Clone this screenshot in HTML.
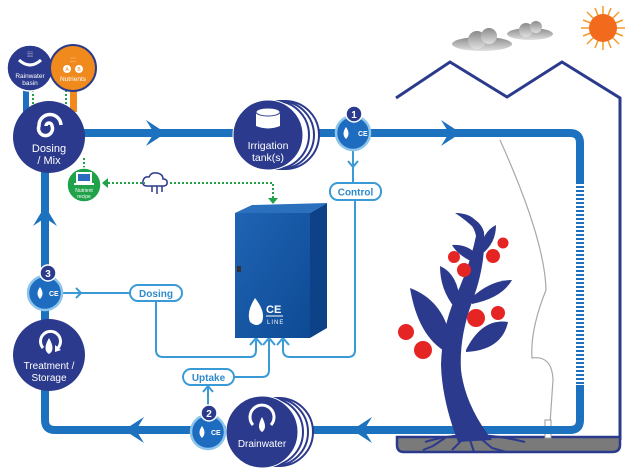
<!DOCTYPE html>
<html><head><meta charset="utf-8"><style>
html,body{margin:0;padding:0;background:#fff;}
svg{display:block;font-family:"Liberation Sans",sans-serif;}
</style></head><body>
<svg width="627" height="470" viewBox="0 0 627 470" xmlns="http://www.w3.org/2000/svg">
<defs>
<linearGradient id="cab" x1="0" y1="0" x2="1" y2="1"><stop offset="0" stop-color="#1f64b4"/><stop offset="1" stop-color="#0e4a94"/></linearGradient>
<linearGradient id="cl" x1="0" y1="0" x2="0" y2="1"><stop offset="0" stop-color="#8a8a8a"/><stop offset="1" stop-color="#e0e0e0"/></linearGradient>
</defs>
<!-- sun -->
<g transform="translate(603,28)">
<g stroke="#f49a2a" stroke-width="1.5">
<line x1="0" y1="-22" x2="0" y2="22"/><line x1="-22" y1="0" x2="22" y2="0"/>
<line x1="-16" y1="-16" x2="16" y2="16"/><line x1="-16" y1="16" x2="16" y2="-16"/>
<line x1="-8" y1="-20" x2="8" y2="20"/><line x1="8" y1="-20" x2="-8" y2="20"/>
<line x1="-20" y1="-8" x2="20" y2="8"/><line x1="-20" y1="8" x2="20" y2="-8"/>
</g>
<circle r="14" fill="#f26a1b"/></g>
<!-- clouds -->
<g fill="url(#cl)">
<ellipse cx="482" cy="44" rx="30" ry="7"/><circle cx="477" cy="40" r="9"/><circle cx="489" cy="36" r="8"/>
<ellipse cx="530" cy="34" rx="23" ry="6"/><circle cx="526" cy="30" r="7"/><circle cx="536" cy="27" r="6"/>
</g>
<!-- greenhouse -->
<path d="M396,98 L450,62 L507,97 L562,62 L620,98 L620,440" fill="none" stroke="#2b3a8c" stroke-width="3"/>
<path d="M397,437 L620,437 L620,445 Q620,452 612,452 L404,452 Q397,452 397,445 Z" fill="#7a7a7a" stroke="#2b3a8c" stroke-width="2.5"/>
<!-- sensor wire -->
<path d="M500,140 Q545,240 546,290 Q530,330 532,358 Q552,355 553,380 L549,438" fill="none" stroke="#a8a8a8" stroke-width="1.2"/>
<rect x="545" y="420" width="6" height="18" fill="#fff" stroke="#999" stroke-width="1"/>
<!-- main pipes -->
<g fill="none" stroke="#1d72c0" stroke-width="8">
<path d="M45,133 L570,133 Q580,133 580,143 L580,182"/>
<path d="M580,385 L580,420 Q580,430 570,430 L55,430 Q45,430 45,420 L45,133"/>
</g>
<line x1="580" y1="182" x2="580" y2="385" stroke="#1d72c0" stroke-width="8" stroke-dasharray="2,2"/>
<!-- arrows -->
<g fill="#1d72c0">
<path d="M146,120 L166,133 L146,146 L154,133 Z"/>
<path d="M441,120 L461,133 L441,146 L449,133 Z"/>
<path d="M144,417 L124,430 L144,443 L136,430 Z"/>
<path d="M372,417 L352,430 L372,443 L364,430 Z"/>
<path d="M33,226 L45,206 L57,226 L45,218 Z"/>
</g>
<!-- thin control lines -->
<g fill="none" stroke="#3a9ad6" stroke-width="2">
<path d="M353,150 L353,183"/>
<path d="M355,200 L355,350 Q355,357 348,357 L290,357 Q283,357 283,350 L283,340"/>
<path d="M63,293 L130,293"/>
<path d="M156,301 L156,350 Q156,357 163,357 L250,357 Q256,357 256,350 L256,340"/>
<path d="M234,377 L262,377 Q269,377 269,370 L269,340"/>
<path d="M208,385 L208,415"/>
</g>
<g fill="none" stroke="#3a9ad6" stroke-width="2" stroke-linejoin="round">
<path d="M250,345 L256,338 L262,345"/><path d="M263,345 L269,338 L275,345"/><path d="M277,345 L283,338 L289,345"/>
<path d="M348,161 L353,167 L358,161"/><path d="M76,288 L81,293 L76,298"/><path d="M203,392 L208,386 L213,392"/>
</g>
<!-- labels -->
<g font-size="10" font-weight="bold" fill="#2e8acb" text-anchor="middle">
<rect x="330" y="183" width="51" height="17" rx="8" fill="#fff" stroke="#3a9ad6" stroke-width="2"/><text x="355.5" y="195.5">Control</text>
<rect x="130" y="285" width="52" height="16" rx="8" fill="#fff" stroke="#3a9ad6" stroke-width="2"/><text x="156" y="297">Dosing</text>
<rect x="183" y="369" width="51" height="16" rx="8" fill="#fff" stroke="#3a9ad6" stroke-width="2"/><text x="208.5" y="381">Uptake</text>
</g>
<!-- green dotted -->
<g fill="none" stroke="#1fa24a" stroke-width="2" stroke-dasharray="2,2">
<path d="M108,183 L145,183"/><path d="M170,183 L273,183 L273,198"/>
<path d="M84,158 L84,168"/><path d="M33,90 L33,108"/><path d="M66,90 L66,108"/>
</g>
<path d="M108,178 L102,183 L108,188 Z" fill="#1fa24a"/>
<path d="M268,198 L273,204 L278,198 Z" fill="#1fa24a"/>
<!-- cloud icon -->
<g fill="none" stroke="#2b3a8c" stroke-width="1.5">
<path d="M147,186 Q142,186 143,181 Q144,176 149,177 Q151,172 157,173 Q163,174 163,179 Q168,179 167,184 Q166,186 163,186 Z"/>
<path d="M152,186 L152,192 M157,186 L157,194 M162,186 L162,192"/>
</g>
<!-- pipe stubs for source circles -->
<rect x="23" y="88" width="6" height="24" fill="#1d72c0"/>
<rect x="70" y="88" width="7" height="24" fill="#f08a1c"/>
<!-- rainwater -->
<circle cx="30" cy="68" r="23" fill="#2b3a8c" stroke="#fff" stroke-width="1.5"/>
<path d="M19,60 Q30,70 41,60" fill="none" stroke="#fff" stroke-width="3"/>
<text x="30" y="57" font-size="7" fill="#fff" text-anchor="middle">⁞⁞⁞</text>
<text x="30" y="78" font-size="6.5" fill="#fff" text-anchor="middle">Rainwater</text>
<text x="30" y="85" font-size="6.5" fill="#fff" text-anchor="middle">basin</text>
<!-- nutrients -->
<circle cx="73" cy="68" r="23" fill="#f08a1c" stroke="#2b3a8c" stroke-width="2"/>
<circle cx="67" cy="69" r="4" fill="#fff"/><circle cx="79" cy="69" r="4" fill="#fff"/>
<text x="67" y="71" font-size="5" fill="#f08a1c" text-anchor="middle">A</text><text x="79" y="71" font-size="5" fill="#f08a1c" text-anchor="middle">B</text>
<text x="73" y="62" font-size="6" fill="#fff" text-anchor="middle">⁚⁚⁚</text>
<text x="73" y="81" font-size="6.5" fill="#fff" text-anchor="middle">Nutrients</text>
<!-- dosing mix -->
<circle cx="49" cy="137" r="36" fill="#2b3a8c"/>
<path d="M49,126 m-3,0 a3,3 0 1,1 6,0 a7,7 0 1,1 -13,0 a11,11 0 1,1 22,-1" fill="none" stroke="#fff" stroke-width="3.5"/>
<text x="49" y="152" font-size="11" fill="#fff" text-anchor="middle">Dosing</text>
<text x="49" y="164" font-size="11" fill="#fff" text-anchor="middle">/ Mix</text>
<!-- nutrient recipe -->
<circle cx="84" cy="185" r="17" fill="#1fa24a" stroke="#fff" stroke-width="1.5"/>
<rect x="76" y="172" width="16" height="11" fill="#fff"/><rect x="78" y="174" width="12" height="7" fill="#2b6cc0"/>
<rect x="74" y="183" width="20" height="2" fill="#fff"/>
<text x="84" y="192" font-size="5" fill="#fff" text-anchor="middle">Nutrient</text>
<text x="84" y="198" font-size="5" fill="#fff" text-anchor="middle">recipe</text>
<!-- irrigation tank -->
<g fill="#fff" stroke="#2b3a8c" stroke-width="2">
<circle cx="285" cy="135" r="34"/><circle cx="280" cy="135" r="34"/><circle cx="275" cy="135" r="34"/>
</g>
<circle cx="268" cy="135" r="35" fill="#2b3a8c" stroke="#fff" stroke-width="1"/>
<path d="M256,112 L256,126 Q268,131 280,126 L280,112" fill="#fff"/>
<ellipse cx="268" cy="112" rx="12" ry="4" fill="#fff" stroke="#2b3a8c" stroke-width="1"/>
<text x="268" y="149" font-size="10.5" fill="#fff" text-anchor="middle">Irrigation</text>
<text x="268" y="161" font-size="10.5" fill="#fff" text-anchor="middle">tank(s)</text>
<!-- drainwater -->
<g fill="#fff" stroke="#2b3a8c" stroke-width="2">
<circle cx="279" cy="432" r="34"/><circle cx="274" cy="432" r="34"/><circle cx="269" cy="432" r="34"/>
</g>
<circle cx="262" cy="432" r="36" fill="#2b3a8c" stroke="#fff" stroke-width="1"/>
<path d="M253,425 A12,12 0 1,1 271,425" fill="none" stroke="#fff" stroke-width="3"/>
<path d="M262,417 Q268,428 262,432 Q256,428 262,417Z" fill="#fff"/>
<text x="262" y="447" font-size="10" fill="#fff" text-anchor="middle">Drainwater</text>
<!-- treatment -->
<circle cx="49" cy="355" r="36" fill="#2b3a8c"/>
<path d="M43,348 A10,10 0 1,1 58,348" fill="none" stroke="#fff" stroke-width="3"/>
<path d="M55,345 L61,350 L55,352Z" fill="#fff"/>
<path d="M49,338 Q56,350 49,354 Q42,350 49,338Z" fill="#fff"/>
<text x="49" y="369" font-size="10" fill="#fff" text-anchor="middle">Treatment /</text>
<text x="49" y="381" font-size="10" fill="#fff" text-anchor="middle">Storage</text>
<!-- sensors -->
<g>
<circle cx="353" cy="133" r="17" fill="#1e6cc0" stroke="#8cc4ec" stroke-width="2.5"/>
<circle cx="354" cy="114" r="8" fill="#2b3a8c" stroke="#fff" stroke-width="1.5"/>
<text x="354" y="118" font-size="10" font-weight="bold" fill="#fff" text-anchor="middle">1</text>
<path d="M346,127 Q351,134 346,139 Q341,134 346,127Z" fill="#fff"/>
<text x="358" y="136" font-size="7" font-weight="bold" fill="#fff">CE</text>
</g>
<g>
<circle cx="45" cy="293" r="17" fill="#1e6cc0" stroke="#8cc4ec" stroke-width="2.5"/>
<circle cx="48" cy="273" r="8" fill="#2b3a8c" stroke="#fff" stroke-width="1.5"/>
<text x="48" y="277" font-size="10" font-weight="bold" fill="#fff" text-anchor="middle">3</text>
<path d="M40,287 Q45,294 40,299 Q35,294 40,287Z" fill="#fff"/>
<text x="49" y="296" font-size="7" font-weight="bold" fill="#fff">CE</text>
</g>
<g>
<circle cx="208" cy="432" r="17" fill="#1e6cc0" stroke="#8cc4ec" stroke-width="2.5"/>
<circle cx="209" cy="413" r="8" fill="#2b3a8c" stroke="#fff" stroke-width="1.5"/>
<text x="209" y="417" font-size="10" font-weight="bold" fill="#fff" text-anchor="middle">2</text>
<path d="M202,426 Q207,433 202,438 Q197,433 202,426Z" fill="#fff"/>
<text x="211" y="435" font-size="7" font-weight="bold" fill="#fff">CE</text>
</g>
<!-- cabinet -->
<path d="M310,213 L327,203 L327,328 L310,338 Z" fill="#0d4288"/>
<path d="M235,213 L252,205 L327,203 L310,213 Z" fill="#2a70bd"/>
<rect x="235" y="213" width="75" height="125" fill="url(#cab)"/>
<rect x="237" y="266" width="4" height="6" fill="#333"/>
<path d="M255,298 Q266,312 262,322 Q257,328 250,322 Q246,312 255,298Z" fill="#fff"/>
<text x="266" y="313" font-size="11" font-weight="bold" fill="#fff">CE</text>
<line x1="266" y1="316" x2="283" y2="316" stroke="#fff" stroke-width="1"/>
<text x="267" y="324" font-size="6" fill="#fff" letter-spacing="1">LINE</text>
<!-- tree -->
<g fill="#2b3a8c">
<path d="M458,442 Q442,400 441,365 Q442,328 455,298 Q470,265 476,236 Q474,224 460,214 Q480,218 484,232 Q486,265 472,302 Q459,338 461,370 Q465,405 492,440 Z"/>
<path d="M425,442 Q470,428 525,442" fill="none" stroke="#2b3a8c" stroke-width="2"/>
<path d="M466,350 Q482,318 508,322 Q502,350 466,352Z"/>
<path d="M446,352 Q418,336 410,288 Q442,300 450,336Z"/>
<path d="M455,308 Q440,290 440,266 Q458,274 460,302Z"/>
<path d="M470,299 Q490,280 512,280 Q502,298 472,304Z"/>
<path d="M477,264 Q458,256 452,245 Q470,244 479,258Z"/>
<path d="M480,252 Q482,232 496,225 Q496,243 482,254Z"/>
<path d="M476,230 Q466,220 455,213 Q472,213 478,224Z"/>
<path d="M445,438 l-12,8 l-10,4 M462,440 l-10,10 M480,438 l12,10 l14,4 M470,440 l4,12" stroke="#2b3a8c" stroke-width="2" fill="none"/>
</g>
<g fill="#e52424">
<circle cx="406" cy="332" r="8"/><circle cx="423" cy="350" r="9"/>
<circle cx="476" cy="318" r="9"/><circle cx="498" cy="313" r="7"/>
<circle cx="464" cy="270" r="7"/><circle cx="454" cy="257" r="6"/>
<circle cx="493" cy="256" r="7"/><circle cx="503" cy="243" r="5.5"/>
</g>
</svg>
</body></html>
